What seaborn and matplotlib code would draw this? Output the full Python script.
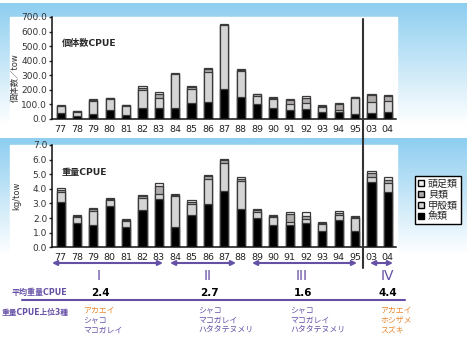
import numpy as np
import pandas as pd
import matplotlib
matplotlib.use('Agg')
import matplotlib.pyplot as plt
from matplotlib.patches import Rectangle, Patch
from matplotlib.lines import Line2D
import seaborn as sns

sns.set_style('white')
plt.rcParams['font.family'] = ['DejaVu Sans', 'Noto Sans CJK JP']

# survey years
years = ['77', '78', '79', '80', '81', '82', '83', '84', '85', '86', '87',
         '88', '89', '90', '91', '92', '93', '94', '95', '03', '04']

# number CPUE (individuals / tow), bottom to top: fish, crustaceans, shellfish, cephalopods
fish_n = [39, 18, 37, 60, 28, 78, 76, 78, 113, 117, 208, 150, 104, 74, 64, 69, 48, 48, 32, 41, 51]
crus_n = [51, 33, 89, 80, 64, 122, 67, 230, 92, 205, 436, 181, 55, 66, 42, 44, 37, 14, 113, 76, 75]
shell_n = [2, 2, 4, 2, 2, 14, 32, 3, 13, 18, 2, 4, 12, 4, 23, 34, 4, 39, 3, 46, 30]
ceph_n = [5, 5, 6, 5, 3, 11, 7, 4, 7, 7, 5, 8, 4, 8, 7, 9, 10, 9, 6, 7, 7]

# weight CPUE (kg / tow)
fish_w = [3.13, 1.69, 1.53, 2.81, 1.37, 2.58, 3.33, 1.37, 2.24, 2.99, 3.88,
          2.63, 2.01, 1.53, 1.53, 1.67, 1.14, 1.89, 1.14, 4.45, 3.81]
crus_w = [0.68, 0.41, 0.98, 0.43, 0.43, 0.82, 0.35, 2.15, 0.71, 1.71, 1.87,
          1.94, 0.39, 0.52, 0.21, 0.27, 0.46, 0.30, 0.85, 0.37, 0.57]
shell_w = [0.12, 0.07, 0.12, 0.06, 0.07, 0.08, 0.54, 0.06, 0.15, 0.16, 0.19,
           0.13, 0.12, 0.07, 0.54, 0.23, 0.07, 0.18, 0.07, 0.23, 0.25]
ceph_w = [0.11, 0.07, 0.09, 0.06, 0.07, 0.08, 0.21, 0.07, 0.12, 0.12, 0.13,
          0.12, 0.13, 0.12, 0.12, 0.23, 0.07, 0.10, 0.09, 0.18, 0.19]

group_roman = ['I', 'II', 'III', 'IV']
mean_weight = ['2.4', '2.7', '1.6', '4.4']
top3 = [['アカエイ', 'シャコ', 'マコガレイ'],
        ['シャコ', 'マコガレイ', 'ハタタテヌメリ'],
        ['シャコ', 'マコガレイ', 'ハタタテヌメリ'],
        ['アカエイ', 'ホシザメ', 'スズキ']]
top3_color = [['o', 'p', 'p'], ['p', 'p', 'p'], ['p', 'p', 'p'], ['o', 'o', 'o']]

layer_names = ['魚類', '甲殻類', '貝類', '頭足類']
layer_colors = ['#000000', '#d4d4d4', '#b0acac', '#f0f0f0']
purple = '#6650a6'
orange = '#e8862e'
blue = np.array([142, 206, 240]) / 255

W, H = 470, 340
fig = plt.figure(figsize=(W / 100, H / 100), dpi=100)

# background (pixel coordinates, y downwards)
bg = fig.add_axes([0, 0, 1, 1])
bg.set_xlim(0, W)
bg.set_ylim(H, 0)
bg.axis('off')


def gradient(y0, y1):
    t = np.linspace(0, 1, 100)[:, None, None]
    img = blue[None, None, :] * (1 - t) + np.ones(3)[None, None, :] * t
    bg.imshow(img, extent=[0, 467, y1, y0], origin='upper', aspect='auto', zorder=0)


gradient(3, 125)
gradient(138, 255)
bg.add_patch(Rectangle((10, 17), 387, 118, color='white', zorder=1))
bg.add_patch(Rectangle((10, 145), 387, 115, color='white', zorder=1))
bg.set_xlim(0, W)
bg.set_ylim(H, 0)


def stacked(ax, layers, ymax, yticks, fmt):
    df = pd.DataFrame({'year': years})
    cum = np.cumsum(np.array(layers), axis=0)
    for i in range(len(layers) - 1, -1, -1):
        df['v'] = cum[i]
        sns.barplot(data=df, x='year', y='v', order=years, color=layer_colors[i],
                    saturation=1, width=0.5, edgecolor='#3a3a3a', linewidth=0.9,
                    errorbar=None, ax=ax)
    ax.set_xlim(-0.53, 20.5)
    ax.set_ylim(0, ymax)
    ax.set_yticks(yticks)
    ax.set_yticklabels([fmt % v for v in yticks], fontsize=6.5, color='#333333')
    ax.set_xticks(range(len(years)))
    ax.set_xticklabels(years, fontsize=6.8, color='#222222')
    ax.set_xticks(np.arange(0.5, 20, 1), minor=True)
    ax.tick_params(axis='x', which='major', length=0, pad=4)
    ax.tick_params(axis='x', which='minor', length=2.5, width=1.5, direction='out', color='#333333')
    ax.tick_params(axis='y', length=2.5, width=1, direction='out', left=True, pad=1)
    ax.set_xlabel('')
    ax.set_ylabel('')
    for s in ['top', 'right']:
        ax.spines[s].set_visible(False)
    for s in ['left', 'bottom']:
        ax.spines[s].set_color('#111111')
        ax.spines[s].set_linewidth(1.1)


ax1 = fig.add_axes([52 / W, 1 - 119 / H, 344 / W, 102 / H])
stacked(ax1, [fish_n, crus_n, shell_n, ceph_n], 700, np.arange(0, 701, 100), '%.1f')
ax1.text(10 / 344, 1 - 26 / 102, '個体数CPUE', transform=ax1.transAxes,
         fontsize=6.6, fontweight='bold', va='center')

ax2 = fig.add_axes([52 / W, 1 - 247.3 / H, 344 / W, 102.3 / H])
stacked(ax2, [fish_w, crus_w, shell_w, ceph_w], 7, np.arange(0, 7.1, 1), '%.1f')
ax2.text(10 / 344, 1 - 27 / 102, '重量CPUE', transform=ax2.transAxes,
         fontsize=6.6, fontweight='bold', va='center')

fig.text(15 / W, 1 - 78 / H, '個体数／tow', rotation=90, fontsize=6, ha='center', va='center', color='#333333')
fig.text(17 / W, 1 - 196 / H, 'kg/tow', rotation=90, fontsize=6, ha='center', va='center', color='#333333')

# legend
handles = [Patch(facecolor=layer_colors[i], edgecolor='black', linewidth=1) for i in [3, 2, 1, 0]]
labels = [layer_names[i] for i in [3, 2, 1, 0]]
fig.legend(handles, labels, loc='upper left', bbox_to_anchor=(415 / W, 1 - 176 / H),
           fontsize=7.2, frameon=True, fancybox=False, edgecolor='black', framealpha=1,
           handlelength=0.55, handleheight=0.55, handletextpad=0.45, labelspacing=0.08,
           borderpad=0.3, borderaxespad=0)

# vertical separator between 95 and 03
fig.add_artist(Line2D([363 / W, 363 / W], [1 - 19 / H, 1 - 268 / H], color='#333333', lw=1.5))

# period arrows, numerals and mean weight CPUE
arrows = [(52, 163), (170, 236), (252, 357), (370, 393)]
num_x = [99, 208, 302, 387]
for (a, b), x, g, m in zip(arrows, num_x, group_roman, mean_weight):
    bg.annotate('', xy=(b, 263), xytext=(a, 263),
                arrowprops=dict(arrowstyle='<|-|>', color=purple, lw=1.5,
                                mutation_scale=7, shrinkA=0, shrinkB=0), zorder=3)
    bg.text(x, 276, g, color=purple, fontsize=10, ha='center', va='center', zorder=3)
    bg.text(x + 1, 293, m, color='black', fontsize=7.5, fontweight='bold', ha='center', va='center', zorder=3)

# top-3 species per period
col_x = [83, 198, 290, 380]
for x, sp, sc in zip(col_x, top3, top3_color):
    for k, (name, c) in enumerate(zip(sp, sc)):
        bg.text(x, 310 + 10 * k, name, color=orange if c == 'o' else purple,
                fontsize=5.7, ha='left', va='center', zorder=3)

bg.text(12, 292, '平均重量CPUE', color=purple, fontsize=5.8, fontweight='bold', va='center', zorder=3)
bg.plot([22, 405], [300, 300], color=purple, lw=1.5, zorder=3)
bg.text(2, 313, '重量CPUE上位3種', color=purple, fontsize=5.6, fontweight='bold', va='center', zorder=3)

fig.savefig('out.png', dpi=100)
